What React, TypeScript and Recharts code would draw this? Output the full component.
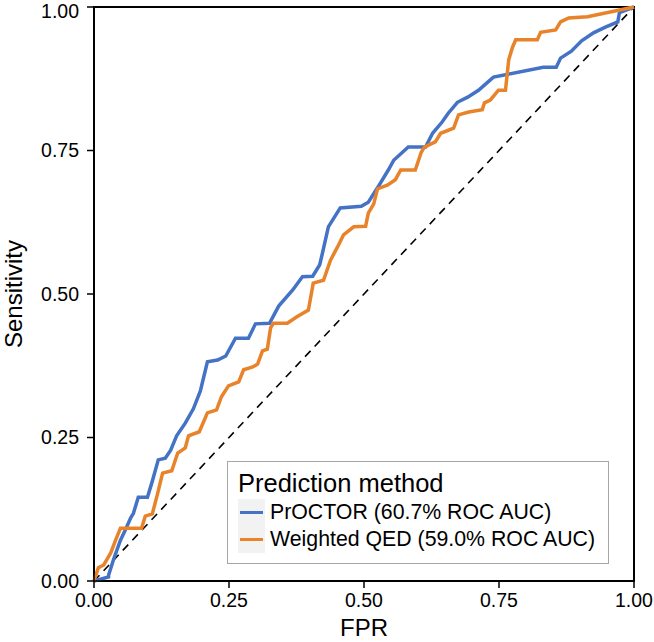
import { LineChart, Line, XAxis, YAxis, ReferenceLine, ReferenceArea, Label } from "recharts";

const axisTicks = [0, 0.25, 0.5, 0.75, 1];

const proctorFpr = [0, 0.027, 0.027, 0.036, 0.049, 0.058, 0.068, 0.073, 0.082, 0.099, 0.108, 0.119, 0.132, 0.142, 0.153, 0.169, 0.184, 0.197, 0.21, 0.229, 0.244, 0.262, 0.286, 0.299, 0.325, 0.342, 0.368, 0.386, 0.405, 0.418, 0.423, 0.434, 0.456, 0.495, 0.508, 0.525, 0.545, 0.555, 0.582, 0.614, 0.627, 0.645, 0.656, 0.673, 0.692, 0.712, 0.734, 0.74, 0.762, 0.832, 0.856, 0.864, 0.884, 0.903, 0.925, 0.947, 0.97, 0.973, 1];
const proctorTpr = [0, 0.007, 0.01, 0.037, 0.071, 0.089, 0.11, 0.118, 0.146, 0.146, 0.174, 0.211, 0.214, 0.228, 0.253, 0.275, 0.3, 0.331, 0.382, 0.385, 0.392, 0.423, 0.423, 0.448, 0.449, 0.479, 0.507, 0.53, 0.531, 0.551, 0.571, 0.617, 0.65, 0.653, 0.66, 0.685, 0.716, 0.733, 0.756, 0.756, 0.78, 0.8, 0.815, 0.834, 0.843, 0.855, 0.873, 0.878, 0.882, 0.895, 0.895, 0.911, 0.923, 0.941, 0.955, 0.965, 0.974, 0.99, 1];

const qedFpr = [0, 0.008, 0.018, 0.031, 0.04, 0.049, 0.088, 0.095, 0.108, 0.118, 0.127, 0.144, 0.155, 0.169, 0.175, 0.195, 0.21, 0.227, 0.236, 0.249, 0.268, 0.277, 0.294, 0.303, 0.312, 0.321, 0.327, 0.332, 0.358, 0.375, 0.397, 0.406, 0.425, 0.438, 0.451, 0.462, 0.481, 0.503, 0.508, 0.518, 0.525, 0.544, 0.558, 0.568, 0.595, 0.606, 0.612, 0.632, 0.642, 0.666, 0.675, 0.694, 0.719, 0.723, 0.734, 0.749, 0.762, 0.768, 0.775, 0.781, 0.821, 0.827, 0.855, 0.864, 0.879, 0.914, 1];
const qedTpr = [0, 0.023, 0.028, 0.049, 0.071, 0.092, 0.092, 0.113, 0.117, 0.153, 0.188, 0.192, 0.223, 0.232, 0.253, 0.26, 0.293, 0.298, 0.321, 0.34, 0.347, 0.368, 0.373, 0.378, 0.401, 0.404, 0.441, 0.449, 0.449, 0.46, 0.472, 0.519, 0.524, 0.559, 0.582, 0.603, 0.617, 0.618, 0.641, 0.657, 0.683, 0.69, 0.699, 0.716, 0.716, 0.747, 0.756, 0.765, 0.78, 0.789, 0.812, 0.817, 0.821, 0.833, 0.838, 0.855, 0.855, 0.908, 0.93, 0.943, 0.943, 0.956, 0.96, 0.974, 0.981, 0.983, 1];

const seriesNames = ["PrOCTOR (60.7% ROC AUC)", "Weighted QED (59.0% ROC AUC)"];
const seriesColors = ["#4472C4", "#E8832A"];

const proctorData = proctorFpr.map((f, i) => ({ fpr: f, tpr: proctorTpr[i] }));
const qedData = qedFpr.map((f, i) => ({ fpr: f, tpr: qedTpr[i] }));

const font = "'Liberation Sans', Arial, sans-serif";
const tickStyle = { fill: "#000", fontSize: 19.5, fontFamily: font };

function LegendBox() {
  return (
    <div
      style={{
        position: "absolute",
        left: 227,
        top: 461,
        width: 382,
        height: 103,
        border: "1px solid #a6a6a6",
        background: "#fff",
        fontFamily: font,
        color: "#000",
        boxSizing: "border-box",
        padding: "5px 0 0 10px",
      }}
    >
      <div style={{ fontSize: 25.5, lineHeight: "32px" }}>Prediction method</div>
      {seriesNames.map((name, i) => (
        <div key={name} style={{ display: "flex", alignItems: "center", height: 27 }}>
          <div
            style={{
              width: 27,
              height: 27,
              background: "#f2f2f2",
              display: "flex",
              alignItems: "center",
              justifyContent: "center",
            }}
          >
            <div style={{ width: 23, height: 3, background: seriesColors[i] }} />
          </div>
          <span style={{ fontSize: 21.3, marginLeft: 5 }}>{name}</span>
        </div>
      ))}
    </div>
  );
}

export default function App() {
  return (
    <div style={{ position: "absolute", left: 0, top: 0, width: 654, height: 642, background: "#fff", fontFamily: font }}>
      <LineChart width={654} height={642} margin={{ top: 7, right: 20, left: 0, bottom: 0 }}>
        <XAxis
          type="number"
          dataKey="fpr"
          domain={[0, 1]}
          ticks={axisTicks}
          tickFormatter={(v: number) => v.toFixed(2)}
          height={61}
          stroke="#000"
          strokeWidth={1.5}
          tickSize={7}
          tickMargin={5}
          tick={tickStyle}
        >
          <Label
            content={({ viewBox }: any) => (
              <text x={viewBox.x + viewBox.width / 2} y={viewBox.y + 55} textAnchor="middle" fontSize={24} fill="#000" fontFamily={font}>
                FPR
              </text>
            )}
          />
        </XAxis>
        <YAxis
          type="number"
          dataKey="tpr"
          domain={[0, 1]}
          ticks={axisTicks}
          tickFormatter={(v: number) => v.toFixed(2)}
          width={94}
          stroke="#000"
          strokeWidth={1.5}
          tickSize={7}
          tickMargin={8}
          tick={tickStyle}
        >
          <Label
            content={({ viewBox }: any) => {
              const cx = 22;
              const cy = viewBox.y + viewBox.height / 2;
              return (
                <text x={cx} y={cy} transform={`rotate(-90 ${cx} ${cy})`} textAnchor="middle" fontSize={24} fill="#000" fontFamily={font}>
                  Sensitivity
                </text>
              );
            }}
          />
        </YAxis>
        <ReferenceArea x1={0} x2={1} y1={0} y2={1} fill="none" stroke="#000" strokeWidth={2} ifOverflow="visible" />
        <ReferenceLine
          segment={[
            { x: 0, y: 0 },
            { x: 1, y: 1 },
          ]}
          stroke="#000"
          strokeWidth={1.6}
          strokeDasharray="8 6"
        />
        <Line
          data={proctorData}
          dataKey="tpr"
          name={seriesNames[0]}
          stroke={seriesColors[0]}
          strokeWidth={3.5}
          dot={false}
          type="linear"
          isAnimationActive={false}
        />
        <Line
          data={qedData}
          dataKey="tpr"
          name={seriesNames[1]}
          stroke={seriesColors[1]}
          strokeWidth={3.5}
          dot={false}
          type="linear"
          isAnimationActive={false}
        />
      </LineChart>
      <LegendBox />
    </div>
  );
}
